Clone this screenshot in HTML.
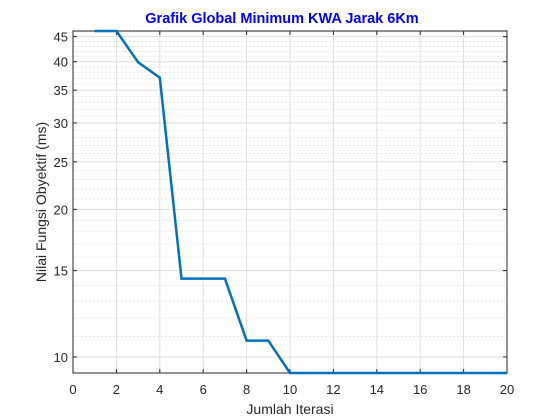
<!DOCTYPE html>
<html><head><meta charset="utf-8"><style>body{margin:0;background:#fff}svg{display:block;font-family:"Liberation Sans",Arial,sans-serif}</style></head>
<body>
<svg id="c" width="560" height="420"></svg>
<script>
const iterations=[1,2,3,4,5,6,7,8,9,10,11,12,13,14,15,16,17,18,19,20];
const objective=[46.2,46.2,39.9,37.1,14.45,14.45,14.45,10.8,10.8,9.276,9.276,9.276,9.276,9.276,9.276,9.276,9.276,9.276,9.276,9.276];
const xTicks=[0,2,4,6,8,10,12,14,16,18,20];
const yTicks=[10,15,20,25,30,35,40,45];
const yMinor=[10,11,12,13,14,16,17,18,19,21,22,23,24,26,27,28,29,31,32,33,34,36,37,38,39,41,42,43,44,46];
const L=73,R=507,T=31,B=373,xMin=0,xMax=20,yMin=9.276,yMax=46.2;
const sx=v=>L+(v-xMin)/(xMax-xMin)*(R-L);
const sy=v=>B-(Math.log10(v)-Math.log10(yMin))/(Math.log10(yMax)-Math.log10(yMin))*(B-T);
const s=document.getElementById('c');const NS='http://www.w3.org/2000/svg';
function mk(t,a,p){const e=document.createElementNS(NS,t);for(const k in a)e.setAttribute(k,a[k]);(p||s).appendChild(e);return e;}
const g=mk('g',{});


yMinor.forEach(v=>{const l=mk('line',{x1:L,x2:R,y1:sy(v),y2:sy(v),stroke:'#dcdcdc','stroke-width':0.6,'stroke-dasharray':'2,2'},g);

});
yTicks.forEach(v=>{const l=mk('line',{x1:L,x2:R,y1:sy(v),y2:sy(v),stroke:'#dedede','stroke-width':1},g);

});
xTicks.forEach(v=>{const l=mk('line',{x1:sx(v),x2:sx(v),y1:T,y2:B,stroke:'#dedede','stroke-width':1},g);

});
const box=mk('rect',{x:L,y:T,width:R-L,height:B-T,fill:'none',stroke:'#262626','stroke-width':1});


xTicks.forEach(v=>{mk('line',{x1:sx(v),x2:sx(v),y1:B,y2:B-4,stroke:'#262626'});mk('line',{x1:sx(v),x2:sx(v),y1:T,y2:T+4,stroke:'#262626'});
const t=mk('text',{x:sx(v),y:B+21,'text-anchor':'middle','font-size':13,fill:'#262626'});t.textContent=v;

});
yTicks.forEach(v=>{mk('line',{x1:L,x2:L+4,y1:sy(v),y2:sy(v),stroke:'#262626'});mk('line',{x1:R,x2:R-4,y1:sy(v),y2:sy(v),stroke:'#262626'});
const t=mk('text',{x:L-5,y:sy(v)+5,'text-anchor':'end','font-size':13,fill:'#262626'});t.textContent=v;

});
const ln=mk('polyline',{points:iterations.map((x,i)=>sx(x)+','+sy(objective[i])).join(' '),fill:'none',stroke:'#0072BD','stroke-width':2.5});


const ti=mk('text',{x:282,y:23,'text-anchor':'middle','font-size':14.5,'font-weight':'bold',fill:'#0000ff'});ti.textContent='Grafik Global Minimum KWA Jarak 6Km';


const xl=mk('text',{x:290,y:414,'text-anchor':'middle','font-size':14,fill:'#262626'});xl.textContent='Jumlah Iterasi';


const yl=mk('text',{x:0,y:0,'text-anchor':'middle','font-size':14,fill:'#262626',transform:'translate(46,202) rotate(-90)'});yl.textContent='Nilai Fungsi Obyektif (ms)';


</script>
</body></html>
